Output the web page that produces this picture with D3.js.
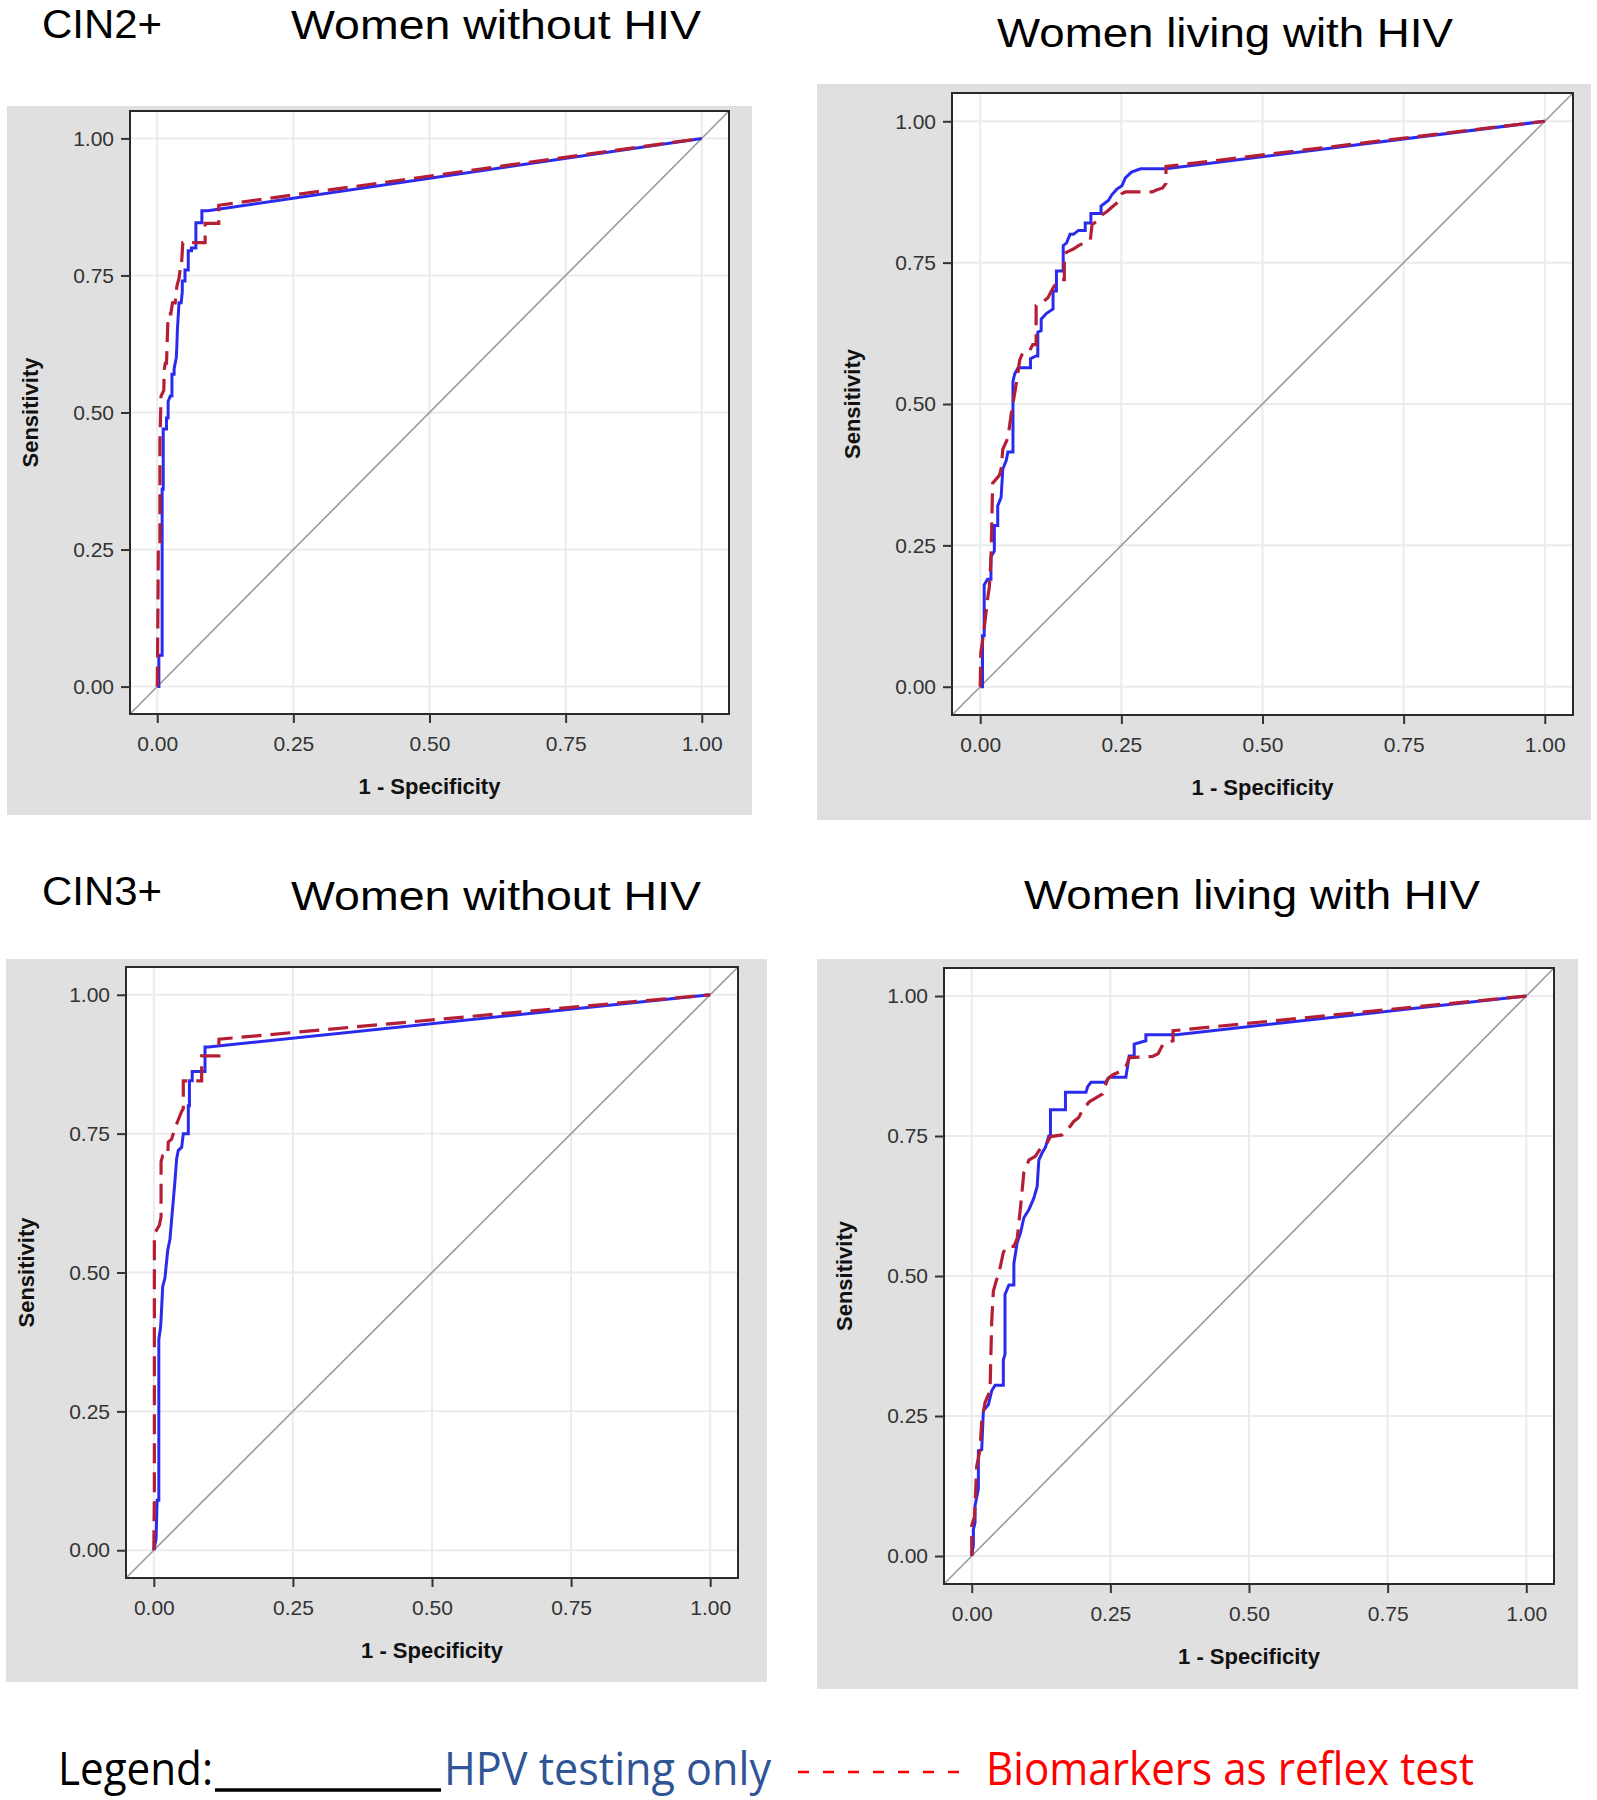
<!DOCTYPE html>
<html>
<head>
<meta charset="utf-8">
<script src="https://cdn.jsdelivr.net/npm/d3@7"></script>
<style>
  html, body { margin: 0; padding: 0; background: #ffffff; }
  svg { display: block; }
</style>
</head>
<body>
<svg id="chart" width="1597" height="1800"></svg>
<script>
// ---------------- DATA ----------------
const tickValues = [0, 0.25, 0.5, 0.75, 1];
const tickLabels = ["0.00", "0.25", "0.50", "0.75", "1.00"];
const xAxisLabel = "1 - Specificity";
const yAxisLabel = "Sensitivity";
const rowLabels = ["CIN2+", "CIN3+"];
const panelTitles = ["Women without HIV", "Women living with HIV", "Women without HIV", "Women living with HIV"];
const seriesNames = ["HPV testing only", "Biomarkers as reflex test"];

// CIN2+, women without HIV  [1 - specificity, sensitivity]
const hpvCin2Neg = [[0,0],[0.003,0],[0.003,0.057],[0.009,0.057],[0.009,0.36],[0.011,0.36],[0.011,0.47],[0.017,0.47],[0.017,0.49],[0.020,0.49],[0.020,0.52],[0.024,0.53],[0.027,0.53],[0.027,0.57],[0.031,0.57],[0.031,0.58],[0.035,0.60],[0.036,0.62],[0.037,0.65],[0.040,0.70],[0.044,0.70],[0.046,0.72],[0.046,0.74],[0.051,0.74],[0.051,0.76],[0.057,0.76],[0.057,0.795],[0.063,0.795],[0.063,0.80],[0.071,0.80],[0.071,0.846],[0.082,0.846],[0.082,0.868],[0.093,0.868],[1,1]];
const bioCin2Neg = [[0,0],[0.001,0.10],[0.002,0.25],[0.005,0.25],[0.005,0.45],[0.007,0.53],[0.012,0.54],[0.013,0.58],[0.015,0.59],[0.017,0.59],[0.019,0.65],[0.020,0.68],[0.025,0.68],[0.028,0.70],[0.033,0.70],[0.036,0.73],[0.040,0.745],[0.042,0.76],[0.044,0.76],[0.047,0.81],[0.088,0.81],[0.088,0.845],[0.113,0.845],[0.113,0.878],[1,1]];

// CIN2+, women living with HIV
const hpvCin2Pos = [[0,0],[0.004,0],[0.004,0.09],[0.007,0.09],[0.007,0.18],[0.013,0.19],[0.019,0.19],[0.019,0.23],[0.025,0.24],[0.025,0.285],[0.031,0.285],[0.031,0.32],[0.037,0.335],[0.040,0.385],[0.046,0.40],[0.049,0.415],[0.058,0.415],[0.058,0.54],[0.061,0.553],[0.067,0.564],[0.089,0.564],[0.089,0.58],[0.099,0.585],[0.102,0.585],[0.102,0.627],[0.108,0.63],[0.108,0.65],[0.117,0.66],[0.129,0.668],[0.129,0.70],[0.135,0.70],[0.135,0.735],[0.147,0.735],[0.147,0.78],[0.153,0.785],[0.159,0.80],[0.165,0.80],[0.174,0.807],[0.186,0.807],[0.186,0.82],[0.196,0.82],[0.196,0.837],[0.214,0.837],[0.214,0.85],[0.227,0.86],[0.233,0.87],[0.242,0.88],[0.251,0.886],[0.257,0.90],[0.268,0.91],[0.284,0.916],[0.329,0.916],[1,1]];
const bioCin2Pos = [[0,0],[0.001,0.06],[0.006,0.094],[0.013,0.155],[0.016,0.175],[0.019,0.224],[0.022,0.36],[0.034,0.374],[0.037,0.385],[0.040,0.42],[0.049,0.44],[0.055,0.483],[0.064,0.537],[0.070,0.578],[0.076,0.592],[0.088,0.595],[0.093,0.605],[0.099,0.605],[0.099,0.674],[0.108,0.678],[0.120,0.688],[0.126,0.70],[0.132,0.71],[0.141,0.72],[0.149,0.72],[0.149,0.766],[0.156,0.77],[0.165,0.774],[0.174,0.78],[0.186,0.786],[0.195,0.79],[0.198,0.817],[0.207,0.824],[0.215,0.834],[0.224,0.84],[0.233,0.848],[0.245,0.858],[0.251,0.872],[0.257,0.875],[0.305,0.875],[0.311,0.878],[0.323,0.882],[0.329,0.89],[0.329,0.92],[1,1]];

// CIN3+, women without HIV
const hpvCin3Neg = [[0,0],[0.004,0.02],[0.006,0.09],[0.009,0.09],[0.009,0.38],[0.012,0.40],[0.013,0.415],[0.016,0.475],[0.020,0.49],[0.022,0.51],[0.025,0.54],[0.029,0.56],[0.032,0.595],[0.035,0.63],[0.038,0.665],[0.041,0.705],[0.044,0.72],[0.050,0.725],[0.053,0.75],[0.062,0.75],[0.062,0.80],[0.064,0.80],[0.064,0.845],[0.069,0.845],[0.069,0.862],[0.092,0.862],[0.092,0.906],[0.098,0.906],[1,1]];
const bioCin3Neg = [[0,0],[0.001,0.10],[0.001,0.57],[0.010,0.585],[0.013,0.60],[0.013,0.70],[0.016,0.71],[0.025,0.71],[0.026,0.735],[0.032,0.74],[0.038,0.76],[0.044,0.775],[0.050,0.79],[0.053,0.795],[0.053,0.845],[0.086,0.845],[0.086,0.89],[0.117,0.89],[0.117,0.92],[1,1]];

// CIN3+, women living with HIV
const hpvCin3Pos = [[0,0],[0.003,0.02],[0.003,0.047],[0.006,0.06],[0.006,0.09],[0.012,0.12],[0.012,0.188],[0.018,0.19],[0.021,0.26],[0.030,0.27],[0.036,0.295],[0.042,0.305],[0.057,0.305],[0.057,0.35],[0.060,0.36],[0.060,0.467],[0.067,0.484],[0.076,0.484],[0.076,0.522],[0.082,0.56],[0.088,0.577],[0.094,0.604],[0.103,0.618],[0.112,0.639],[0.118,0.66],[0.121,0.707],[0.127,0.72],[0.133,0.73],[0.139,0.75],[0.142,0.75],[0.142,0.797],[0.169,0.797],[0.169,0.828],[0.206,0.828],[0.209,0.838],[0.215,0.846],[0.242,0.846],[0.248,0.855],[0.278,0.855],[0.284,0.893],[0.293,0.893],[0.293,0.914],[0.314,0.92],[0.314,0.931],[0.369,0.931],[1,1]];
const bioCin3Pos = [[0,0],[0,0.054],[0.005,0.07],[0.009,0.16],[0.015,0.19],[0.018,0.24],[0.024,0.274],[0.033,0.295],[0.036,0.418],[0.039,0.473],[0.045,0.494],[0.048,0.50],[0.057,0.542],[0.063,0.553],[0.076,0.553],[0.082,0.567],[0.088,0.623],[0.094,0.685],[0.097,0.69],[0.103,0.707],[0.115,0.714],[0.124,0.728],[0.136,0.738],[0.142,0.749],[0.163,0.752],[0.172,0.76],[0.184,0.776],[0.193,0.783],[0.200,0.797],[0.212,0.811],[0.224,0.818],[0.236,0.825],[0.245,0.852],[0.254,0.859],[0.269,0.866],[0.278,0.873],[0.284,0.89],[0.326,0.892],[0.336,0.897],[0.345,0.914],[0.363,0.92],[0.363,0.938],[1,1]];

// ---------------- LAYOUT ----------------
const svg = d3.select("#chart");
const panels = [
  { bg: [7, 106, 745, 709],  frame: [130, 111, 599, 603], hpv: hpvCin2Neg, bio: bioCin2Neg },
  { bg: [817, 84, 774, 736], frame: [952, 93, 621, 622],  hpv: hpvCin2Pos, bio: bioCin2Pos },
  { bg: [6, 959, 761, 723],  frame: [126, 967, 612, 611], hpv: hpvCin3Neg, bio: bioCin3Neg },
  { bg: [817, 959, 761, 730], frame: [944, 968, 610, 616], hpv: hpvCin3Pos, bio: bioCin3Pos }
];
const domain = [-0.05, 1.05];
const tickFont = "'Liberation Sans', Arial, sans-serif";
const titleFont = "'Liberation Sans', Arial, sans-serif";
const legendFont = "'Open Sans', 'Noto Sans', sans-serif";

panels.forEach((p, i) => {
  const [bx, by, bw, bh] = p.bg;
  const [fx, fy, fw, fh] = p.frame;
  const g = svg.append("g");
  g.append("rect").attr("x", bx).attr("y", by).attr("width", bw).attr("height", bh).attr("fill", "#e0e0e0");
  g.append("rect").attr("x", fx).attr("y", fy).attr("width", fw).attr("height", fh).attr("fill", "#ffffff");

  const x = d3.scaleLinear().domain(domain).range([fx, fx + fw]);
  const y = d3.scaleLinear().domain(domain).range([fy + fh, fy]);

  // gridlines
  g.selectAll(".gx").data(tickValues).join("line")
    .attr("x1", d => x(d)).attr("x2", d => x(d)).attr("y1", fy).attr("y2", fy + fh)
    .attr("stroke", "#ebebeb").attr("stroke-width", 2);
  g.selectAll(".gy").data(tickValues).join("line")
    .attr("y1", d => y(d)).attr("y2", d => y(d)).attr("x1", fx).attr("x2", fx + fw)
    .attr("stroke", "#ebebeb").attr("stroke-width", 2);

  // diagonal reference
  g.append("line")
    .attr("x1", x(domain[0])).attr("y1", y(domain[0]))
    .attr("x2", x(domain[1])).attr("y2", y(domain[1]))
    .attr("stroke", "#9a9a9a").attr("stroke-width", 1.6);

  const line = d3.line().x(d => x(d[0])).y(d => y(d[1]));
  g.append("path").datum(p.hpv).attr("d", line)
    .attr("fill", "none").attr("stroke", "#2b2bf0").attr("stroke-width", 3).attr("stroke-linejoin", "miter");
  g.append("path").datum(p.bio).attr("d", line)
    .attr("fill", "none").attr("stroke", "#b51f35").attr("stroke-width", 3.2)
    .attr("stroke-dasharray", "20,9");

  // frame
  g.append("rect").attr("x", fx).attr("y", fy).attr("width", fw).attr("height", fh)
    .attr("fill", "none").attr("stroke", "#2a2a2a").attr("stroke-width", 2);

  // axes
  const xAxis = d3.axisBottom(x).tickValues(tickValues).tickFormat((d, k) => tickLabels[k]).tickSize(9).tickPadding(13);
  const yAxis = d3.axisLeft(y).tickValues(tickValues).tickFormat((d, k) => tickLabels[k]).tickSize(9).tickPadding(7);
  const gx = g.append("g").attr("transform", `translate(0,${fy + fh})`).call(xAxis);
  const gy = g.append("g").attr("transform", `translate(${fx},0)`).call(yAxis);
  [gx, gy].forEach(a => {
    a.select(".domain").remove();
    a.selectAll(".tick line").attr("stroke", "#333").attr("stroke-width", 2);
    a.selectAll(".tick text").attr("fill", "#333").style("font-family", tickFont).style("font-size", "21px");
  });

  g.append("text")
    .attr("x", fx + fw / 2).attr("y", fy + fh + 80)
    .attr("text-anchor", "middle")
    .style("font-family", tickFont).style("font-size", "22px").style("font-weight", "bold")
    .attr("fill", "#111").text(xAxisLabel);
  g.append("text")
    .attr("transform", `translate(${fx - 92},${fy + fh / 2}) rotate(-90)`)
    .attr("text-anchor", "middle")
    .style("font-family", tickFont).style("font-size", "22px").style("font-weight", "bold")
    .attr("fill", "#111").text(yAxisLabel);
});

// ---------------- TITLES ----------------
const titleSpecs = [
  { t: rowLabels[0], x: 42, y: 38, w: 120 },
  { t: panelTitles[0], x: 291, y: 39, w: 410 },
  { t: panelTitles[1], x: 997, y: 47, w: 456 },
  { t: rowLabels[1], x: 42, y: 905, w: 120 },
  { t: panelTitles[2], x: 291, y: 910, w: 410 },
  { t: panelTitles[3], x: 1024, y: 909, w: 456 }
];
titleSpecs.forEach(s => {
  svg.append("text").attr("x", s.x).attr("y", s.y)
    .attr("textLength", s.w).attr("lengthAdjust", "spacingAndGlyphs")
    .style("font-family", titleFont).style("font-size", "41px")
    .attr("fill", "#000").text(s.t);
});

// ---------------- LEGEND ----------------
const lg = svg.append("g");
lg.append("text").attr("x", 58).attr("y", 1785)
  .attr("textLength", 155).attr("lengthAdjust", "spacingAndGlyphs")
  .style("font-family", legendFont).style("font-size", "46px").attr("fill", "#000").text("Legend:");
lg.append("line").attr("x1", 215).attr("x2", 441).attr("y1", 1790).attr("y2", 1790)
  .attr("stroke", "#000").attr("stroke-width", 3.5);
lg.append("text").attr("x", 444).attr("y", 1785)
  .attr("textLength", 327).attr("lengthAdjust", "spacingAndGlyphs")
  .style("font-family", legendFont).style("font-size", "46px").attr("fill", "#2f5597").text(seriesNames[0]);
lg.append("line").attr("x1", 798).attr("x2", 972).attr("y1", 1772).attr("y2", 1772)
  .attr("stroke", "#ff0000").attr("stroke-width", 2.5).attr("stroke-dasharray", "11,14");
lg.append("text").attr("x", 986).attr("y", 1785)
  .attr("textLength", 488).attr("lengthAdjust", "spacingAndGlyphs")
  .style("font-family", legendFont).style("font-size", "46px").attr("fill", "#ff0000").text(seriesNames[1]);
</script>
</body>
</html>
